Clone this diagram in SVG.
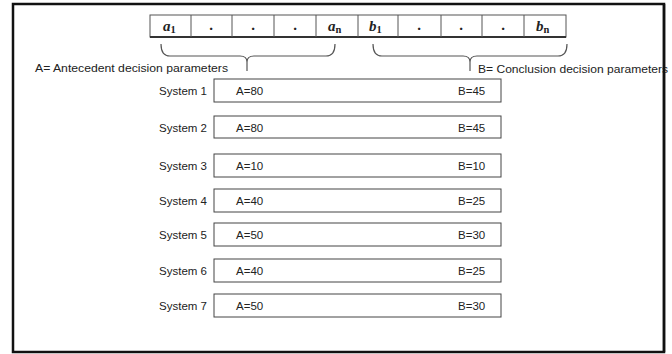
<svg xmlns="http://www.w3.org/2000/svg" width="672" height="354" viewBox="0 0 672 354">
<style>
.frame{fill:#fff;stroke:#111;stroke-width:2.5}
.cell{fill:#fff;stroke:#555;stroke-width:1}
.var{font-family:"Liberation Serif","DejaVu Serif",serif;font-style:italic;font-weight:bold;font-size:15px;fill:#222}
.sub{font-size:10.5px;font-style:normal}
.dot{font-family:"Liberation Serif",serif;font-weight:bold;font-size:15px;fill:#222}
.brace{fill:none;stroke:#555;stroke-width:1.2}
.box{fill:#fff;stroke:#444;stroke-width:1}
.t{font-family:"Liberation Sans","Noto Sans",sans-serif;font-size:11.5px;fill:#222}
</style>
<rect class="frame" x="13" y="4" width="651" height="348"/>
<g id="array">
<rect class="cell" x="150" y="15" width="416" height="22"/>
<line x1="150" y1="37" x2="566" y2="37" stroke="#333" stroke-width="2"/>
<g stroke="#555" stroke-width="1">
<line x1="191" y1="15" x2="191" y2="37"/><line x1="232" y1="15" x2="232" y2="37"/>
<line x1="274" y1="15" x2="274" y2="37"/><line x1="316" y1="15" x2="316" y2="37"/>
<line x1="358" y1="15" x2="358" y2="37"/><line x1="398" y1="15" x2="398" y2="37"/>
<line x1="441" y1="15" x2="441" y2="37"/><line x1="482" y1="15" x2="482" y2="37"/>
<line x1="524" y1="15" x2="524" y2="37"/>
</g>
<text class="var" x="163" y="31">a<tspan class="sub" dy="2">1</tspan></text>
<text class="dot" x="211" y="30" text-anchor="middle">.</text>
<text class="dot" x="253" y="30" text-anchor="middle">.</text>
<text class="dot" x="295" y="30" text-anchor="middle">.</text>
<text class="var" x="328" y="31">a<tspan class="sub" dy="2">n</tspan></text>
<text class="var" x="369" y="31">b<tspan class="sub" dy="2">1</tspan></text>
<text class="dot" x="419" y="30" text-anchor="middle">.</text>
<text class="dot" x="461" y="30" text-anchor="middle">.</text>
<text class="dot" x="503" y="30" text-anchor="middle">.</text>
<text class="var" x="536" y="31">b<tspan class="sub" dy="2">n</tspan></text>
</g>
<g id="braces">
<path class="brace" d="M161,44 Q161,56 170,56 L240,56 Q247,56 247,62 L247,71 M247,62 Q247,56 254,56 L326,56 Q335,56 335,44"/>
<path class="brace" d="M373,44 Q373,56 382,56 L463,56 Q470,56 470,62 L470,71 M470,62 Q470,56 477,56 L558,56 Q567,56 567,44"/>
</g>
<text class="t" x="35" y="72" textLength="193" lengthAdjust="spacingAndGlyphs">A= Antecedent decision parameters</text>
<text class="t" x="478" y="73" textLength="190" lengthAdjust="spacingAndGlyphs">B= Conclusion decision parameters</text>
<g id="system1"><text class="t" x="207" y="95" text-anchor="end">System 1</text><rect class="box" x="214" y="79" width="287" height="23"/><text class="t" x="236" y="95">A=80</text><text class="t" x="458" y="95">B=45</text></g>
<g id="system2"><text class="t" x="207" y="132" text-anchor="end">System 2</text><rect class="box" x="214" y="116" width="287" height="22"/><text class="t" x="236" y="132">A=80</text><text class="t" x="458" y="132">B=45</text></g>
<g id="system3"><text class="t" x="207" y="170" text-anchor="end">System 3</text><rect class="box" x="214" y="154" width="287" height="23"/><text class="t" x="236" y="170">A=10</text><text class="t" x="458" y="170">B=10</text></g>
<g id="system4"><text class="t" x="207" y="205" text-anchor="end">System 4</text><rect class="box" x="214" y="189" width="287" height="23"/><text class="t" x="236" y="205">A=40</text><text class="t" x="458" y="205">B=25</text></g>
<g id="system5"><text class="t" x="207" y="239" text-anchor="end">System 5</text><rect class="box" x="214" y="223" width="287" height="23"/><text class="t" x="236" y="239">A=50</text><text class="t" x="458" y="239">B=30</text></g>
<g id="system6"><text class="t" x="207" y="275" text-anchor="end">System 6</text><rect class="box" x="214" y="259" width="287" height="23"/><text class="t" x="236" y="275">A=40</text><text class="t" x="458" y="275">B=25</text></g>
<g id="system7"><text class="t" x="207" y="310" text-anchor="end">System 7</text><rect class="box" x="214" y="294" width="287" height="23"/><text class="t" x="236" y="310">A=50</text><text class="t" x="458" y="310">B=30</text></g>
<line x1="664" y1="4" x2="664" y2="352" stroke="#111" stroke-width="2.5"/>
</svg>
